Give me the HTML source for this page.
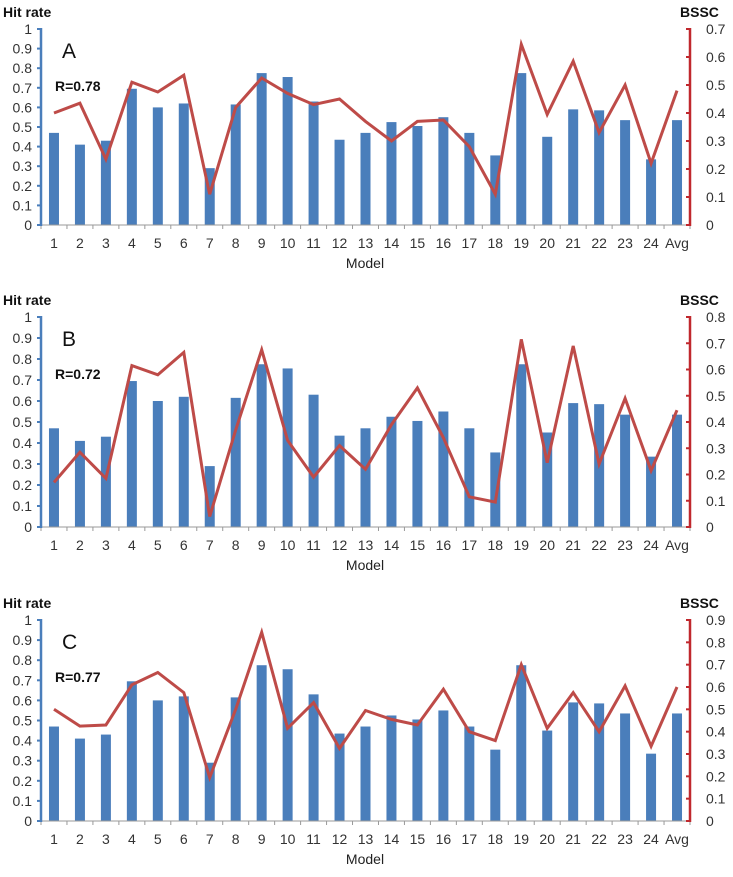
<!DOCTYPE html>
<html><head><meta charset="utf-8"><style>
body{margin:0;background:#fff}
svg{display:block;font-family:"Liberation Sans",sans-serif}
</style></head><body>
<svg id="chart" width="733" height="877" viewBox="0 0 733 877"></svg>
<script>
const categories=["1","2","3","4","5","6","7","8","9","10","11","12","13","14","15","16","17","18","19","20","21","22","23","24","Avg"];
const hitRate=[0.47,0.41,0.43,0.695,0.60,0.62,0.29,0.615,0.775,0.755,0.63,0.435,0.47,0.525,0.505,0.55,0.47,0.355,0.775,0.45,0.59,0.585,0.535,0.335,0.535];
const bsscA=[0.40,0.435,0.235,0.51,0.475,0.535,0.11,0.42,0.525,0.47,0.43,0.45,0.37,0.30,0.37,0.375,0.28,0.11,0.645,0.395,0.585,0.33,0.50,0.22,0.48];
const bsscB=[0.17,0.285,0.185,0.615,0.58,0.665,0.04,0.37,0.675,0.33,0.19,0.31,0.22,0.39,0.53,0.34,0.115,0.095,0.715,0.245,0.69,0.24,0.49,0.215,0.445];
const bsscC=[0.50,0.425,0.43,0.61,0.665,0.575,0.195,0.50,0.845,0.415,0.53,0.325,0.495,0.455,0.43,0.59,0.40,0.36,0.70,0.415,0.575,0.40,0.605,0.335,0.60];
const leftTicks=["0","0.1","0.2","0.3","0.4","0.5","0.6","0.7","0.8","0.9","1"];
const panelLabels=["A","B","C"];
const rValues=["R=0.78","R=0.72","R=0.77"];
const rightMax=[0.7,0.8,0.9];

const svg=document.getElementById('chart');
const NS="http://www.w3.org/2000/svg";
function mk(tag,attrs,parent,text){const e=document.createElementNS(NS,tag);for(const k in attrs)e.setAttribute(k,attrs[k]);if(text!==undefined)e.textContent=text;(parent||svg).appendChild(e);return e;}

const panels=[{top:29,bot:225,data:bsscA},{top:317,bot:527,data:bsscB},{top:620,bot:821,data:bsscC}];
const X0=41,X1=690;
const slot=(X1-X0)/categories.length;
const xC=i=>X0+slot*(i+0.5);

panels.forEach((p,pi)=>{
  const g=mk('g',{});
  
  
  const yL=v=>p.bot-(p.bot-p.top)*v;
  const yR=v=>p.bot-(p.bot-p.top)*v/rightMax[pi];
  // bars
  hitRate.forEach((v,i)=>{
    const r=mk('rect',{x:xC(i)-5,y:yL(v),width:10,height:p.bot-yL(v),fill:'#4a7ebb'},g);
    
    
  });
  // x axis
  const xa=mk('line',{x1:X0,y1:p.bot,x2:X1,y2:p.bot,stroke:'#999','stroke-width':1},g);
  
  
  for(let i=0;i<=categories.length;i++)mk('line',{x1:X0+slot*i,y1:p.bot,x2:X0+slot*i,y2:p.bot+4,stroke:'#999'},g);
  categories.forEach((c,i)=>{
    const t=mk('text',{x:xC(i),y:p.bot+23,'text-anchor':'middle','font-size':14,fill:'#333'},g,c);
    
    
  });
  const mt=mk('text',{x:365,y:p.bot+43,'text-anchor':'middle','font-size':14,fill:'#222'},g,'Model');
  
  
  // left axis
  const la=mk('line',{x1:X0,y1:p.top-1,x2:X0,y2:p.bot+1,stroke:'#4a7ebb','stroke-width':2.5},g);
  
  
  leftTicks.forEach((t,i)=>{
    const v=parseFloat(t);
    mk('line',{x1:X0-4,y1:yL(v),x2:X0,y2:yL(v),stroke:'#4a7ebb','stroke-width':2},g);
    const tx=mk('text',{x:X0-9,y:yL(v)+5,'text-anchor':'end','font-size':14,fill:'#333'},g,t);
    
    
  });
  const lt=mk('text',{x:3,y:p.top-12,'font-size':14,'font-weight':'bold',fill:'#111'},g,'Hit rate');
  
  
  // right axis
  const ra=mk('line',{x1:X1,y1:p.top-1,x2:X1,y2:p.bot+1,stroke:'#c0282d','stroke-width':2.5},g);
  
  
  const n=Math.round(rightMax[pi]*10);
  for(let k=0;k<=n;k++){
    const v=k/10;
    mk('line',{x1:X1-4,y1:yR(v),x2:X1,y2:yR(v),stroke:'#c0282d','stroke-width':2},g);
    const tx=mk('text',{x:X1+16,y:yR(v)+5,'font-size':14,fill:'#333'},g,k===0?'0':v.toFixed(1));
    
    
  }
  const rt=mk('text',{x:680,y:p.top-12,'font-size':14,'font-weight':'bold',fill:'#111'},g,'BSSC');
  
  
  // line
  const pts=p.data.map((v,i)=>xC(i).toFixed(1)+','+yR(v).toFixed(1)).join(' ');
  const pl=mk('polyline',{points:pts,fill:'none',stroke:'#be4b48','stroke-width':3,'stroke-linejoin':'miter'},g);
  
  
  // labels
  const pL=mk('text',{x:62,y:p.top+29,'font-size':21,fill:'#111'},g,panelLabels[pi]);
  
  
  const rL=mk('text',{x:55,y:p.top+62,'font-size':14,'font-weight':'bold',fill:'#111'},g,rValues[pi]);
  
  
});
</script>
</body></html>
